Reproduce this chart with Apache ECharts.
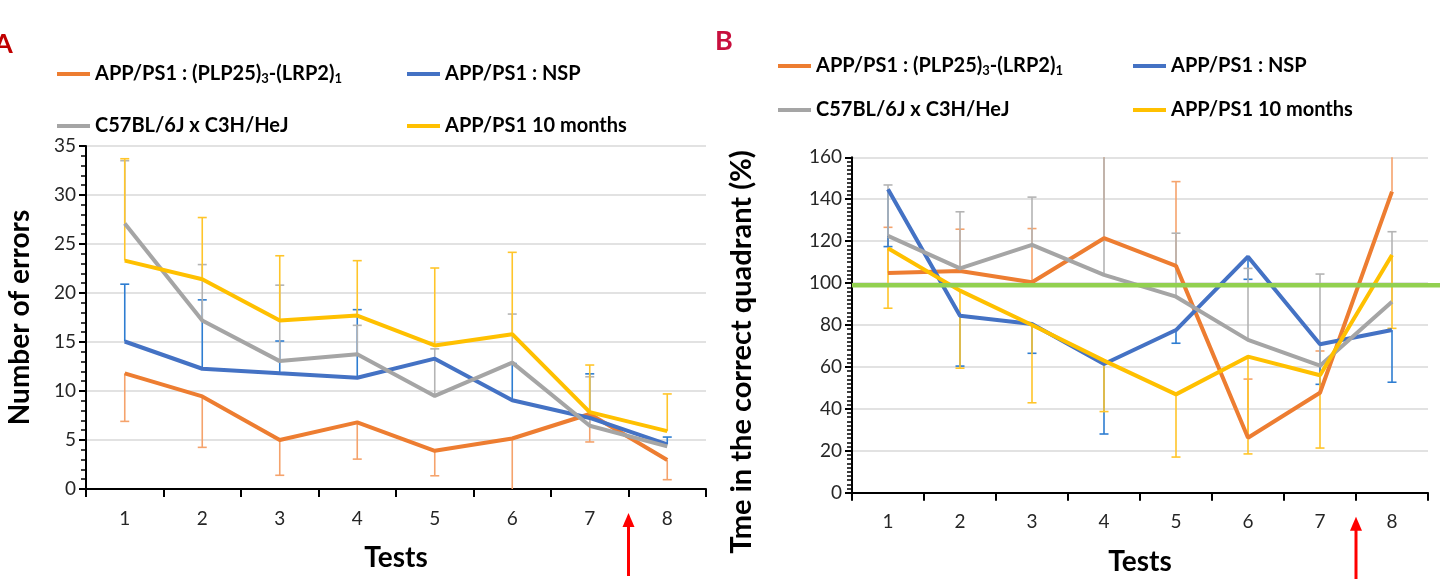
<!DOCTYPE html>
<html><head><meta charset="utf-8">
<script src="https://cdn.jsdelivr.net/npm/echarts@6/dist/echarts.min.js"></script>
<style>html,body{margin:0;padding:0;background:#fff}#c{width:1440px;height:585px}</style>
</head><body><div id="c"></div>
<script>
// ---------- data ----------
const tests = ['1','2','3','4','5','6','7','8'];
const names = ['APP/PS1 : (PLP25)₃-(LRP2)₁','APP/PS1 : NSP','C57BL/6J x C3H/HeJ','APP/PS1 10 months'];

// Panel A: number of errors (mean) and error-bar end values
const errPLP      = [11.8, 9.45, 5.0, 6.8, 3.9, 5.15, 7.65, 2.95];
const errPLPBar   = [6.9, 4.25, 1.4, 3.05, 1.35, -0.6, 4.8, 0.95];
const errNSP      = [15.05, 12.27, 11.8, 11.35, 13.3, 9.05, 7.25, 4.55];
const errNSPBar   = [20.9, 19.3, 15.1, 18.3, null, 12.8, 11.75, 5.3];
const errWT       = [27.1, 17.2, 13.05, 13.75, 9.5, 12.9, 6.45, 4.35];
const errWTBar    = [33.5, 22.9, 20.8, 16.7, 14.3, 17.85, 11.45, null];
const err10m      = [23.3, 21.4, 17.2, 17.7, 14.65, 15.8, 7.85, 5.9];
const err10mBar   = [33.7, 27.7, 23.8, 23.3, 22.55, 24.15, 12.65, 9.7];

// Panel B: time in the correct quadrant (%) and error-bar end values
const timePLP     = [104.8, 105.8, 100.4, 121.4, 108.2, 26.2, 47.7, 143.6];
const timePLPBar  = [126.6, 125.7, 126, 175, 148.4, 54.2, 67.6, 175];
const timeNSP     = [144.8, 84.4, 80.5, 61.4, 77.6, 112.6, 70.8, 77.6];
const timeNSPBar  = [117.4, 60.4, 66.5, 28, 71.3, 101.8, 51.7, 52.7];
const timeWT      = [122.5, 107, 118.2, 103.9, 93.5, 72.9, 60.6, 91.1];
const timeWTBar   = [146.8, 134, 141, 165, 123.8, 107, 104.3, 124.5];
const time10m     = [116.6, 96.4, 80, 63, 46.9, 64.9, 56, 113.4];
const time10mBar  = [88, 59.4, 42.9, 38.7, 17, 18.5, 21.3, 78.4];

const refLine = 99;           // chance level line, panel B
const treatmentBetween = ['7','8'];  // red arrow position

// ---------- style ----------
const lineColors = ['#ED7D31','#4472C4','#A5A5A5','#FFC000'];
const barColors  = ['#F5A36C','#2E7DD1','#B4B4B4','#FFC52A'];
const FONT = 'Lato';
const gridA = {left:86, top:146, width:620, height:343};
const gridB = {left:852, top:157.3, width:576, height:335.4};

const chart = echarts.init(document.getElementById('c'), null, {renderer:'canvas'});

function errRender(color){
  return function(params, api){
    const m = api.value(1), e = api.value(2);
    if (e == null || isNaN(e)) return null;
    const cs = params.coordSys;
    const p0 = api.coord([api.value(0), m]);
    const p1 = api.coord([api.value(0), e]);
    let y1 = p1[1]; let cap = true;
    if (y1 < cs.y) { y1 = cs.y; cap = false; }
    if (y1 > cs.y + cs.height) { y1 = cs.y + cs.height; cap = false; }
    const ch = [{type:'line', shape:{x1:p0[0],y1:p0[1],x2:p0[0],y2:y1}, style:{stroke:color,lineWidth:1.6}}];
    if (cap) ch.push({type:'line', shape:{x1:p0[0]-4.5,y1:y1,x2:p0[0]+4.5,y2:y1}, style:{stroke:color,lineWidth:1.6}});
    return {type:'group', children:ch};
  };
}
function errSeries(name, idx, gi, mean, ends){
  return {type:'custom', name:name, xAxisIndex:gi, yAxisIndex:gi, z:2,
    renderItem: errRender(barColors[idx]),
    itemStyle:{color:lineColors[idx]},
    encode:{x:0, y:[1,2]},
    data: tests.map((t,i)=>[i, mean[i], ends[i] == null ? '-' : ends[i]]),
    silent:true};
}
function lineSeries(name, idx, gi, vals){
  return {type:'line', name:name, xAxisIndex:gi, yAxisIndex:gi, z:3, data:vals,
    symbol:'none', lineStyle:{color:lineColors[idx], width:4}, itemStyle:{color:lineColors[idx]}};
}

const tickLabel = {fontFamily:FONT, fontSize:19, color:'#262626'};
const titleText = {fontFamily:FONT, fontSize:28, fontWeight:'bold', color:'#000'};
function xAx(gi, gap){
  return {gridIndex:gi, type:'category', data:tests, boundaryGap:true,
    axisLine:{lineStyle:{color:'#000', width:2}},
    axisTick:{show:true, length:8, lineStyle:{color:'#000', width:2}},
    axisLabel:Object.assign({margin:20}, tickLabel),
    splitLine:{show:false},
    name:'Tests', nameLocation:'middle', nameGap:gap,
    nameTextStyle:titleText};
}
function yAx(gi, max, interval, minorSplit){
  return {gridIndex:gi, type:'value', min:0, max:max, interval:interval,
    axisLine:{show:true, lineStyle:{color:'#000', width:2}},
    axisTick:{show:true, length:7, lineStyle:{color:'#000', width:2}},
    minorTick:{show:true, splitNumber:minorSplit, length:5, lineStyle:{color:'#000', width:1.5}},
    splitLine:{show:true, lineStyle:{color:'#D9D9D9', width:1.5}},
    axisLabel:Object.assign({margin:10}, tickLabel)};
}

const legendText = {fontFamily:FONT, fontWeight:'bold', fontSize:20, color:'#000', lineHeight:22,
  rich:{s:{fontFamily:FONT, fontWeight:'bold', fontSize:13, color:'#000', verticalAlign:'bottom', padding:[8,0,0,0]}}};
function fmt(n){ return n.replace('(PLP25)₃','(PLP25){s|3}').replace('(LRP2)₁','(LRP2){s|1}'); }
function leg(idx, left, top){
  return {data:[{name:names[idx], itemStyle:{color:lineColors[idx]}}], left:left, top:top, icon:'rect',
    itemWidth:33, itemHeight:4, itemGap:0,
    selectedMode:false, textStyle:legendText, formatter:fmt, padding:0};
}

const yA = yAx(0, 35, 5, 5);
Object.assign(yA, {name:'Number of errors', nameLocation:'middle', nameGap:52, nameRotate:90,
  nameTextStyle:titleText});
const yB = yAx(1, 160, 20, 10);

const meansA = [errPLP, errNSP, errWT, err10m], endsA = [errPLPBar, errNSPBar, errWTBar, err10mBar];
const meansB = [timePLP, timeNSP, timeWT, time10m], endsB = [timePLPBar, timeNSPBar, timeWTBar, time10mBar];
const series = [];
for (let i=0;i<4;i++) series.push(errSeries(names[i], i, 0, meansA[i], endsA[i]));
for (let i=0;i<4;i++) series.push(errSeries(names[i], i, 1, meansB[i], endsB[i]));
for (let i=0;i<4;i++) series.push(lineSeries(names[i], i, 0, meansA[i]));
for (let i=0;i<4;i++) series.push(lineSeries(names[i], i, 1, meansB[i]));

chart.setOption({
  animation:false,
  backgroundColor:'#fff',
  grid:[gridA, gridB],
  xAxis:[xAx(0, 55), xAx(1, 55)],
  yAxis:[yA, yB],
  legend:[
    leg(0, 57, 63), leg(1, 407, 63),
    leg(2, 57, 115), leg(3, 407, 115),
    leg(0, 778, 55), leg(1, 1133, 55),
    leg(2, 778, 99), leg(3, 1133, 99)
  ],
  series:series
});

// annotations computed through the axes
const yRef = chart.convertToPixel({yAxisIndex:1}, refLine);
const arrows = [0,1].map(gi => {
  const xa = chart.convertToPixel({xAxisIndex:gi}, treatmentBetween[0]);
  const xb = chart.convertToPixel({xAxisIndex:gi}, treatmentBetween[1]);
  return (xa + xb) / 2;
});
const axisBottomA = gridA.top + gridA.height, axisBottomB = gridB.top + gridB.height;
function arrow(x, yTop, yBot){
  return {type:'group', z:100, children:[
    {type:'line', shape:{x1:x, y1:yTop+12, x2:x, y2:yBot}, style:{stroke:'#FF0000', lineWidth:3}},
    {type:'polygon', shape:{points:[[x, yTop],[x-6, yTop+14],[x+6, yTop+14]]}, style:{fill:'#FF0000'}}
  ]};
}
chart.setOption({
  graphic:[
    {type:'line', z:100, shape:{x1:gridB.left, y1:yRef, x2:1440, y2:yRef}, style:{stroke:'#92D050', lineWidth:4.5}},
    arrow(arrows[0], axisBottomA + 24, 576),
    arrow(arrows[1], axisBottomB + 24, 579),
    {type:'text', x:-6, y:31, style:{text:'A', fontFamily:FONT, fontSize:27, fontWeight:'bold', fill:'#C00000'}},
    {type:'text', x:715, y:28, style:{text:'B', fontFamily:FONT, fontSize:27, fontWeight:'bold', fill:'#C8103E'}},
    {type:'text', x:742, y:352, rotation:Math.PI/2,
      style:{text:'Tme in the correct quadrant (%)', fontFamily:FONT, fontSize:29, fontWeight:'bold', fill:'#000', align:'center', verticalAlign:'middle'}}
  ]
});
</script></body></html>
